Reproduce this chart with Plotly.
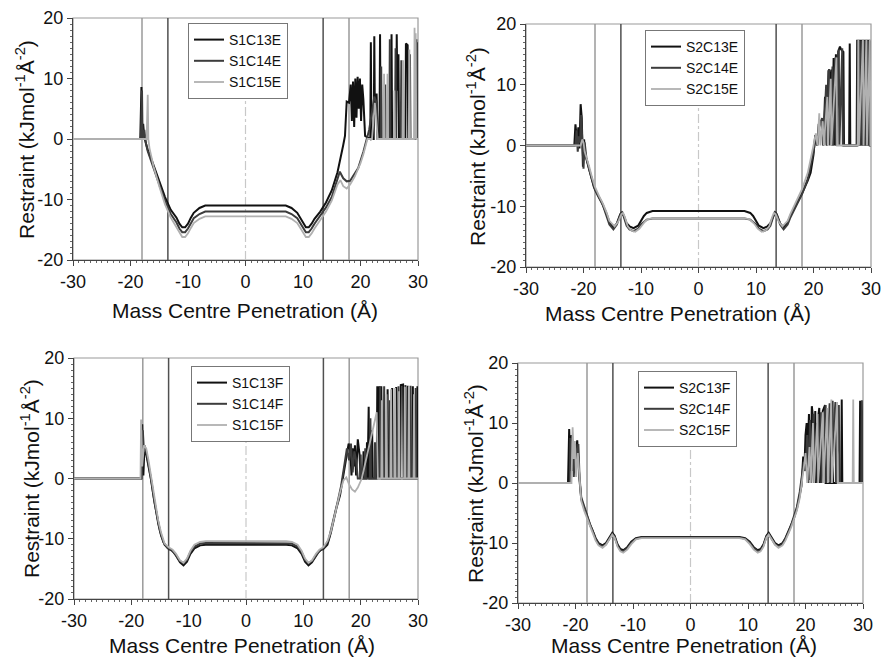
import plotly.graph_objects as go

# ---------------- data (x in Å, restraint in kJ mol-1 Å-2) ----------------
S1C13E = [(-30,0),(-18.3,0),(-18.1,8.6),(-17.95,0.5),(-17.8,2.5),(-17.6,0.3),(-17.3,-0.8),(-17.0,-1.8),(-16.5,-3.0),(-16.0,-4.3),(-15.0,-7.0),(-14.0,-9.6),(-13.0,-11.7),(-12.0,-13.0),(-11.5,-14.0),(-11.0,-14.6),(-10.5,-14.6),(-10.0,-14.0),(-9.5,-13.0),(-9.0,-12.2),(-8.0,-11.4),(-7.0,-11.0),(7.0,-11.0),(8.0,-11.4),(9.0,-12.2),(9.5,-13.0),(10.0,-14.0),(10.5,-14.6),(11.0,-14.6),(11.5,-14.0),(12.0,-13.2),(13.0,-12.0),(14.0,-10.5),(15.0,-8.5),(16.0,-5.5),(16.5,-3.5),(17.0,-1.0),(17.3,0.5),(17.6,6.2),(18.0,6.0),(18.3,9.0),(18.5,3.0),(18.7,9.5),(18.9,2.0),(19.1,10.0),(19.3,3.5),(19.5,10.3),(19.7,5.0),(19.9,10.0),(20.1,3.0),(20.3,9.0),(20.5,6.5),(20.8,0.5),(21.7,0),(21.8,16.0),(21.9,0),(22.3,0),(22.4,17.0),(22.5,4.0),(22.8,7.5),(23.0,0),(23.3,0),(23.4,17.3),(23.5,0),(25.3,0),(25.4,17.3),(25.5,0),(26.2,0),(26.3,17.3),(26.4,8.0),(26.6,14.0),(26.7,0),(27.8,0),(27.9,15.8),(28.2,15.5),(28.3,0),(29.6,0),(29.7,16.5),(29.8,0),(30,0)]
S1C14E = [(-30,0),(-18.2,0),(-18.0,8.0),(-17.9,0),(-17.6,1.5),(-17.3,-0.8),(-17.0,-2.0),(-16.5,-3.3),(-16,-4.7),(-15,-7.5),(-14,-10.2),(-13,-12.4),(-12,-13.8),(-11.5,-14.8),(-11,-15.4),(-10.5,-15.4),(-10,-14.8),(-9.5,-13.9),(-9,-13.1),(-8,-12.4),(-7,-12.0),(7,-12.0),(8,-12.4),(9,-13.1),(9.5,-13.9),(10,-14.8),(10.5,-15.4),(11,-15.4),(11.5,-14.8),(12,-14.0),(13,-12.7),(14,-11.3),(15,-9.6),(16,-6.8),(16.4,-5.4),(17,-6.5),(17.6,-7.0),(18.2,-6.9),(19,-5.8),(19.6,-4.8),(20.5,-2.1),(21.1,0),(21.5,1.5),(22,4.5),(22.4,7.0),(22.8,6.0),(23.0,0),(23.5,0),(23.6,12),(23.7,0),(24.2,0),(24.3,9),(24.4,0),(25.0,0),(25.1,16.5),(25.2,0),(26.0,0),(26.1,15),(26.2,0),(27.0,0),(27.1,13),(27.2,0),(28.5,0),(28.6,14),(28.7,0),(29.8,0),(29.9,16),(30,0)]
S1C15E = [(-30,0),(-17.2,0),(-17.0,7.3),(-16.9,0),(-16.7,-1.5),(-16.3,-3.2),(-16,-4.5),(-15,-7.8),(-14,-10.8),(-13,-13.0),(-12,-14.6),(-11.5,-15.6),(-11,-16.2),(-10.5,-16.2),(-10,-15.6),(-9.5,-14.7),(-9,-13.9),(-8,-13.2),(-7,-12.8),(7,-12.8),(8,-13.2),(9,-13.9),(9.5,-14.7),(10,-15.6),(10.5,-16.2),(11,-16.2),(11.5,-15.6),(12,-14.8),(13,-13.4),(14,-12.0),(15,-10.2),(16,-7.5),(16.5,-6.8),(17,-7.8),(17.6,-8.2),(18.2,-7.5),(19,-6.2),(20,-4.0),(20.5,-2.5),(21.2,0),(22.0,0),(22.5,6.0),(23.0,0),(24.0,0),(24.1,10.8),(24.2,0),(24.6,0),(24.7,10.8),(24.8,0),(25.8,0),(25.9,8.0),(26.0,0),(27.3,0),(27.4,13.0),(27.5,0),(28.4,0),(28.5,14.8),(28.6,0),(29.3,0),(29.4,18.4),(29.5,0),(29.6,17.5),(29.7,0),(30,0)]

S2C13E = [(-30,0),(-21.6,0),(-21.4,3.5),(-21.1,0.5),(-20.9,3.0),(-20.7,-0.5),(-20.5,6.8),(-20.3,4.5),(-20.1,-3.5),(-19.9,1.0),(-19.7,-1.5),(-19.3,-3.0),(-18.8,-4.7),(-18.2,-6.8),(-17.5,-8.2),(-16.8,-9.4),(-16,-11.2),(-15.5,-12.6),(-14.8,-13.5),(-14.2,-12.8),(-13.6,-11.3),(-13.3,-11.0),(-13.0,-11.5),(-12.5,-12.8),(-12,-13.3),(-11.3,-13.6),(-10.5,-13.2),(-10,-12.4),(-9.5,-11.6),(-9,-11.1),(-8,-10.8),(8,-10.8),(9,-11.1),(9.5,-11.6),(10,-12.4),(10.5,-13.2),(11.3,-13.6),(12,-13.3),(12.5,-12.8),(13,-11.5),(13.3,-11.0),(13.6,-11.3),(14.2,-12.8),(14.8,-13.5),(15.5,-12.6),(16,-11.5),(17,-9.8),(18,-7.9),(19,-5.8),(19.5,-4.5),(20,-1.5),(20.3,1.7),(20.6,0),(20.9,3.5),(21.4,4.2),(21.7,0),(22.0,8.0),(22.3,0),(22.6,12.4),(22.8,10.0),(23.1,12.5),(23.2,0),(23.5,14.4),(23.6,0),(23.9,15.0),(24.0,0),(24.3,15.5),(24.6,16.3),(24.8,15.8),(25.2,15.4),(25.3,0),(26.2,0),(26.3,16.8),(26.4,0),(27.5,0),(27.6,17.4),(27.7,0),(27.9,17.4),(28.0,0),(28.2,17.4),(28.3,0),(28.5,17.4),(28.6,0),(28.8,17.4),(28.9,0),(29.1,17.4),(29.2,0),(29.4,17.4),(29.5,0),(29.7,17.4),(29.8,0),(30,0)]
S2C14E = [(-30,0),(-21.4,0),(-21.2,2.5),(-21.0,-1.0),(-20.8,1.5),(-20.6,0.5),(-20.4,5.0),(-20.2,0),(-20.0,-3.8),(-19.8,0.5),(-19.5,-2.0),(-19.0,-4.0),(-18.5,-5.8),(-18,-7.3),(-17.3,-8.6),(-16.6,-9.9),(-16,-11.6),(-15.5,-13.0),(-14.8,-13.8),(-14.2,-13.0),(-13.6,-11.4),(-13.3,-11.1),(-13.0,-11.7),(-12.5,-13.2),(-12,-13.8),(-11.3,-14.1),(-10.5,-13.7),(-10,-13.0),(-9.5,-12.6),(-9,-12.2),(-8,-12.0),(8,-12.0),(9,-12.2),(9.5,-12.6),(10,-13.0),(10.5,-13.7),(11.3,-14.1),(12,-13.8),(12.5,-13.2),(13,-11.7),(13.3,-11.1),(13.6,-11.4),(14.2,-13.0),(14.8,-13.8),(15.5,-13.0),(16,-11.8),(17,-10.0),(18,-8.0),(19,-5.5),(19.5,-3.5),(20,-1.0),(20.4,1.5),(20.7,0),(21.0,3.0),(21.5,4.5),(21.7,0),(22.2,10.0),(22.3,0),(22.7,12.6),(22.8,0),(23.3,13.0),(23.4,0),(23.8,14.5),(23.9,0),(24.4,15.8),(24.5,0),(25.0,16.0),(25.1,0),(27.6,0),(27.7,17.3),(27.8,0),(28.0,17.3),(28.1,0),(28.4,17.3),(28.5,0),(28.7,17.3),(28.8,0),(29.0,17.3),(29.1,0),(29.3,17.3),(29.4,0),(29.6,17.3),(29.7,0),(29.9,17.3),(30,0)]
S2C15E = [(-30,0),(-20.5,0),(-20.2,1.0),(-20.0,0.5),(-19.8,-1.0),(-19.4,-2.5),(-19.0,-3.5),(-18.5,-5.3),(-18,-6.8),(-17.3,-8.3),(-16.6,-9.6),(-16,-11.0),(-15.5,-12.4),(-14.6,-13.3),(-14.0,-12.6),(-13.4,-11.3),(-13.1,-11.1),(-12.8,-11.8),(-12.3,-13.3),(-11.7,-14.0),(-11.0,-14.2),(-10.3,-13.7),(-9.8,-13.0),(-9.3,-12.5),(-8.8,-12.1),(-8,-12.0),(8,-12.0),(8.8,-12.1),(9.3,-12.5),(9.8,-13.0),(10.3,-13.7),(11.0,-14.2),(11.7,-14.0),(12.3,-13.3),(12.8,-11.8),(13.1,-11.1),(13.4,-11.3),(14.0,-12.6),(14.6,-13.3),(15.5,-12.4),(16,-11.2),(17,-9.3),(18,-7.2),(19,-4.5),(19.5,-2.5),(20,0),(20.4,2.0),(20.7,0),(21.0,5.3),(21.2,0),(21.6,4.0),(21.8,0),(22.4,8.0),(22.5,0),(23.0,11.0),(23.1,0),(24.0,14.5),(24.1,0),(27.7,0),(27.8,17.4),(27.9,0),(28.6,17.4),(28.7,0),(29.2,17.4),(29.3,0),(29.8,17.4),(29.9,0),(30,0)]

S1C13F = [(-30,0),(-18.3,0),(-18.1,9.0),(-17.9,0.5),(-17.7,5.5),(-17.4,4.0),(-17.0,2.5),(-16.6,0),(-16.2,-2.5),(-15.8,-5.0),(-15.3,-7.5),(-14.8,-9.5),(-14.2,-11.0),(-13.5,-11.7),(-12.8,-12.0),(-12.2,-12.8),(-11.5,-13.9),(-10.9,-14.4),(-10.3,-13.8),(-9.7,-12.5),(-9,-11.6),(-8,-11.1),(-7,-11.0),(7,-11.0),(8,-11.1),(9,-11.6),(9.7,-12.5),(10.3,-13.8),(10.9,-14.4),(11.5,-13.9),(12.2,-12.8),(12.8,-12.0),(13.5,-11.7),(14.2,-11.0),(14.8,-9.0),(15.3,-6.8),(15.8,-4.8),(16.4,-2.8),(17.0,0.5),(17.5,3.5),(17.9,5.8),(18.2,4.5),(18.4,0.5),(18.6,5.0),(18.8,2.0),(19.0,5.5),(19.2,0.5),(19.5,6.5),(19.8,4.0),(20.0,0),(20.4,0),(20.5,4.5),(20.6,0),(21.0,0),(21.1,6.0),(21.2,0),(21.4,11.9),(21.5,0),(21.9,0),(22.0,8.0),(22.1,0),(22.8,0),(22.9,15.3),(23.0,0),(23.2,15.3),(23.3,0),(23.6,15.3),(23.7,0),(24.6,0),(24.7,14.8),(24.8,0),(25.4,0),(25.5,15.0),(25.6,0),(26.1,0),(26.2,15.2),(26.3,0),(26.9,0),(27.0,15.5),(27.4,15.6),(27.5,0),(28.1,0),(28.2,15.4),(28.3,0),(29.0,0),(29.1,15.3),(29.2,0),(29.8,0),(29.9,15.3),(30,0)]
S1C14F = [(-30,0),(-18.2,0),(-18.0,8.0),(-17.8,4.5),(-17.5,5.0),(-17.2,3.5),(-16.8,1.5),(-16.4,-1.0),(-16.0,-3.8),(-15.5,-6.5),(-15.0,-8.7),(-14.4,-10.6),(-13.7,-11.5),(-13.0,-11.9),(-12.3,-12.6),(-11.6,-13.6),(-10.9,-14.1),(-10.3,-13.5),(-9.7,-12.2),(-9,-11.3),(-8,-10.8),(-7,-10.7),(7,-10.7),(8,-10.8),(9,-11.3),(9.7,-12.2),(10.3,-13.5),(10.9,-14.1),(11.6,-13.6),(12.3,-12.6),(13.0,-11.9),(13.7,-11.4),(14.4,-10.2),(15.0,-8.0),(15.5,-5.8),(16.0,-3.8),(16.6,-1.2),(17.2,2.5),(17.6,5.0),(18.0,3.0),(18.3,5.8),(18.6,1.0),(18.9,4.5),(19.2,3.0),(19.5,0),(19.9,0),(20.0,4.0),(20.1,0),(20.7,0),(20.8,5.0),(20.9,0),(21.6,0),(21.7,10.0),(21.8,0),(22.4,0),(22.5,6.0),(22.6,0),(23.3,0),(23.4,15.3),(23.5,0),(24.0,0),(24.1,15.3),(24.2,0),(25.0,0),(25.1,13.0),(25.2,0),(26.5,0),(26.6,15.3),(26.7,0),(27.7,0),(27.8,15.5),(27.9,0),(28.6,0),(28.7,15.4),(28.8,0),(29.5,0),(29.6,15.0),(29.7,0),(30,0)]
S1C15F = [(-30,0),(-18.4,0),(-18.3,9.8),(-18.1,2.0),(-17.8,5.5),(-17.4,5.0),(-17.0,3.0),(-16.6,0.5),(-16.2,-2.0),(-15.8,-4.5),(-15.3,-7.0),(-14.8,-9.0),(-14.2,-10.8),(-13.5,-11.4),(-12.8,-11.8),(-12.2,-12.5),(-11.5,-13.6),(-10.9,-14.0),(-10.3,-13.3),(-9.7,-12.0),(-9,-11.0),(-8,-10.5),(-7,-10.4),(7,-10.4),(8,-10.5),(9,-11.0),(9.7,-12.0),(10.3,-13.3),(10.9,-14.0),(11.5,-13.6),(12.2,-12.5),(12.8,-11.8),(13.5,-11.4),(14.2,-10.4),(14.8,-8.8),(15.3,-6.8),(15.8,-4.5),(16.4,-2.3),(17.0,-0.3),(17.5,0.2),(18.0,-1.0),(18.5,-1.8),(19.0,-2.2),(19.5,-1.5),(20.2,0),(20.8,2.5),(21.4,5.0),(22.0,8.0),(22.5,10.0),(22.8,11.0),(23.0,0),(23.6,0),(23.7,13.0),(23.8,0),(24.4,0),(24.5,14.0),(24.6,0),(25.2,0),(25.3,14.8),(25.4,0),(25.9,0),(26.0,15.0),(26.1,0),(26.6,0),(26.7,14.5),(26.8,0),(27.6,0),(27.7,15.2),(27.8,0),(28.3,0),(28.4,15.3),(28.5,0),(29.2,0),(29.3,14.0),(29.4,0),(30,0)]

S2C13F = [(-30,0),(-21.3,0),(-21.1,9.0),(-20.9,3.0),(-20.7,8.0),(-20.5,2.0),(-20.2,6.0),(-19.9,5.5),(-19.7,7.1),(-19.5,3.0),(-19.3,0.5),(-19.0,-2.7),(-18.5,-4.2),(-18.0,-5.6),(-17.5,-6.9),(-17,-8.0),(-16.5,-9.2),(-16,-10.0),(-15.3,-10.4),(-14.7,-10.0),(-14.1,-9.0),(-13.6,-8.3),(-13.2,-8.8),(-12.7,-10.2),(-12.2,-11.0),(-11.7,-11.2),(-11.0,-10.7),(-10.3,-9.8),(-9.5,-9.2),(-8.5,-9.0),(8.5,-9.0),(9.5,-9.2),(10.3,-9.8),(11.0,-10.7),(11.7,-11.2),(12.2,-11.0),(12.7,-10.2),(13.2,-8.8),(13.6,-8.3),(14.1,-9.0),(14.7,-10.0),(15.3,-10.4),(16,-10.0),(16.5,-9.2),(17,-8.2),(17.5,-7.0),(18.0,-5.8),(18.5,-4.3),(19.0,-2.0),(19.3,-0.5),(19.6,4.4),(19.8,2.0),(20.0,8.0),(20.2,10.0),(20.4,5.0),(20.6,11.5),(20.8,0.5),(21.1,12.8),(21.3,11.0),(21.5,0),(21.7,12.0),(21.8,0),(22.2,11.0),(22.4,12.5),(22.5,0),(23.0,12.0),(23.4,13.0),(23.5,0),(24.6,0),(24.7,13.7),(24.8,0),(26.2,0),(26.3,13.9),(26.4,0),(29.4,0),(29.5,13.7),(29.6,0),(30,0)]
S2C14F = [(-30,0),(-21.0,0),(-20.9,7.5),(-20.7,2.0),(-20.5,7.0),(-20.3,1.0),(-20.0,6.5),(-19.8,4.0),(-19.5,6.5),(-19.3,1.0),(-19.0,-2.4),(-18.5,-4.0),(-18.0,-5.5),(-17.5,-6.8),(-17,-8.0),(-16.5,-9.3),(-16,-10.2),(-15.3,-10.6),(-14.7,-10.2),(-14.1,-9.2),(-13.6,-8.5),(-13.2,-9.0),(-12.7,-10.4),(-12.2,-11.2),(-11.7,-11.4),(-11.0,-10.9),(-10.3,-10.0),(-9.5,-9.3),(-8.5,-9.1),(8.5,-9.1),(9.5,-9.3),(10.3,-10.0),(11.0,-10.9),(11.7,-11.4),(12.2,-11.2),(12.7,-10.4),(13.2,-9.0),(13.6,-8.5),(14.1,-9.2),(14.7,-10.2),(15.3,-10.6),(16,-10.2),(16.5,-9.3),(17,-8.3),(17.5,-7.0),(18,-5.6),(18.5,-4.0),(19.0,-1.5),(19.4,1.0),(19.7,3.5),(20.0,2.0),(20.3,8.0),(20.5,0),(20.8,10.5),(21.0,0),(21.4,11.5),(21.5,0),(22.0,10.0),(22.1,0),(22.7,11.8),(22.8,0),(23.5,13.0),(23.6,0),(24.2,13.3),(24.3,0),(25.2,13.5),(25.3,0),(25.8,13.0),(25.9,0),(29.7,0),(29.8,13.8),(29.9,0),(30,0)]
S2C15F = [(-30,0),(-20.7,0),(-20.5,9.3),(-20.3,4.0),(-20.1,7.0),(-19.9,1.0),(-19.6,5.0),(-19.3,0),(-19.0,-3.0),(-18.5,-4.6),(-18.0,-5.9),(-17.5,-7.2),(-17,-8.4),(-16.5,-9.6),(-16,-10.4),(-15.3,-10.8),(-14.7,-10.3),(-14.1,-9.3),(-13.6,-8.6),(-13.2,-9.1),(-12.7,-10.6),(-12.2,-11.4),(-11.7,-11.6),(-11.0,-11.1),(-10.3,-10.2),(-9.5,-9.4),(-8.5,-9.2),(8.5,-9.2),(9.5,-9.4),(10.3,-10.2),(11.0,-11.1),(11.7,-11.6),(12.2,-11.4),(12.7,-10.6),(13.2,-9.1),(13.6,-8.6),(14.1,-9.3),(14.7,-10.3),(15.3,-10.8),(16,-10.4),(16.5,-9.6),(17,-8.6),(17.5,-7.4),(18,-6.0),(18.5,-4.6),(19.0,-2.5),(19.4,0),(19.7,2.5),(20.0,5.0),(20.3,0),(20.7,6.0),(20.9,0),(21.3,10.0),(21.5,0),(22.1,11.5),(22.2,0),(23.0,11.8),(23.1,0),(23.8,12.5),(23.9,0),(24.5,13.9),(24.6,0),(25.5,13.5),(25.6,0),(28.2,0),(28.3,13.9),(28.4,0),(30,0)]

panels = [
    (["S1C13E", "S1C14E", "S1C15E"], [S1C13E, S1C14E, S1C15E]),
    (["S2C13E", "S2C14E", "S2C15E"], [S2C13E, S2C14E, S2C15E]),
    (["S1C13F", "S1C14F", "S1C15F"], [S1C13F, S1C14F, S1C15F]),
    (["S2C13F", "S2C14F", "S2C15F"], [S2C13F, S2C14F, S2C15F]),
]
outer_edges = [-18, 18]      # light grey markers
inner_edges = [-13.5, 13.5]  # dark grey markers
x_ticks = [-30, -20, -10, 0, 10, 20, 30]
x_tick_labels = ["-30", "-20", "-10", "0", "10", "20", "30"]
y_ticks = [-20, -10, 0, 10, 20]
y_tick_labels = ["-20", "-10", "0", "10", "20"]
x_title = "Mass Centre Penetration (Å)"
y_title = "Restraint (kJmol<sup>-1</sup>Å<sup>-2</sup>)"

# ---------------- styling / layout ----------------
W, H = 882, 658
FONT = "Liberation Sans, Arial, sans-serif"
colors = ["#111111", "#3c3c3c", "#b0b0b0"]
widths = [2.0, 2.0, 1.8]

# plot-area pixel boxes (left, right, top, bottom)
boxes = [(73, 418, 18, 260), (526, 871, 24, 267), (74, 418, 358, 599), (518, 863, 363, 603)]
legend_pos = [(188, 23), (645, 30), (191, 366), (638, 371)]
xtitle_pos = [(245, 310), (678, 313), (242, 645), (684, 645)]
ytitle_pos = [(25, 140), (476, 147), (30, 479), (474, 484)]

fig = go.Figure()
layout = dict(width=W, height=H, margin=dict(l=0, r=0, t=0, b=0, autoexpand=False),
              paper_bgcolor="white", plot_bgcolor="white",
              font=dict(family=FONT, color="#111"), showlegend=True,
              shapes=[], annotations=[])

for i, ((names, series), box) in enumerate(zip(panels, boxes)):
    k = "" if i == 0 else str(i + 1)
    xa, ya = "x" + k, "y" + k
    leg = "legend" + k
    for name, ser, c, w in zip(names, series, colors, widths):
        xs = [p[0] for p in ser]
        ys = [p[1] for p in ser]
        fig.add_trace(go.Scatter(x=xs, y=ys, mode="lines", name=name,
                                 line=dict(color=c, width=w),
                                 xaxis=xa, yaxis=ya, legend=leg))
    l, r, t, b = box
    axis_common = dict(showgrid=False, zeroline=False, showline=True, linecolor="#444",
                       linewidth=1.2, ticks="outside", ticklen=5, tickcolor="#444",
                       automargin=False,
                       tickfont=dict(size=18, family=FONT, color="#111"))
    layout["xaxis" + k] = dict(axis_common, domain=[l / W, r / W], anchor=ya,
                               range=[-30, 30], tickvals=x_ticks, ticktext=x_tick_labels,
                               minor=dict(dtick=1, ticks="outside", ticklen=2, tickcolor="#666"))
    layout["yaxis" + k] = dict(axis_common, domain=[1 - b / H, 1 - t / H], anchor=xa,
                               range=[-20, 20], tickvals=y_ticks, ticktext=y_tick_labels,
                               minor=dict(dtick=1, ticks="outside", ticklen=2, tickcolor="#666"))
    lx, ly = legend_pos[i]
    layout[leg] = dict(x=lx / W, y=1 - ly / H, xanchor="left", yanchor="top",
                       bgcolor="white", bordercolor="#777", borderwidth=1,
                       font=dict(size=14, family=FONT, color="#111"),
                       itemwidth=30, tracegroupgap=0)
    tx, ty = xtitle_pos[i]
    layout["annotations"].append(dict(text=x_title, x=tx / W, y=1 - ty / H, xref="paper",
                                      yref="paper", xanchor="center", yanchor="middle",
                                      showarrow=False, font=dict(size=21, family=FONT, color="#111")))
    tx, ty = ytitle_pos[i]
    layout["annotations"].append(dict(text=y_title, x=tx / W, y=1 - ty / H, xref="paper",
                                      yref="paper", xanchor="center", yanchor="middle",
                                      textangle=-90, showarrow=False,
                                      font=dict(size=21, family=FONT, color="#111")))
    xd = xa + " domain"
    yd = ya + " domain"
    layout["shapes"].append(dict(type="rect", xref=xd, yref=yd, x0=0, x1=1, y0=0, y1=1,
                                 line=dict(color="#9a9a9a", width=1.2), layer="below"))
    for xv in outer_edges:
        layout["shapes"].append(dict(type="line", xref=xa, yref=yd, x0=xv, x1=xv, y0=0, y1=1,
                                     line=dict(color="#9a9a9a", width=1.5), layer="below"))
    for xv in inner_edges:
        layout["shapes"].append(dict(type="line", xref=xa, yref=yd, x0=xv, x1=xv, y0=0, y1=1,
                                     line=dict(color="#505050", width=1.5), layer="below"))
    layout["shapes"].append(dict(type="line", xref=xa, yref=ya, x0=0, x1=0, y0=-20, y1=6.8,
                                 line=dict(color="#c8c8c8", width=1.2, dash="dashdot"),
                                 layer="below"))

fig.update_layout(**layout)
fig.write_html("out.html", config={"displayModeBar": False},
               post_script="document.body.style.margin='0px';")
